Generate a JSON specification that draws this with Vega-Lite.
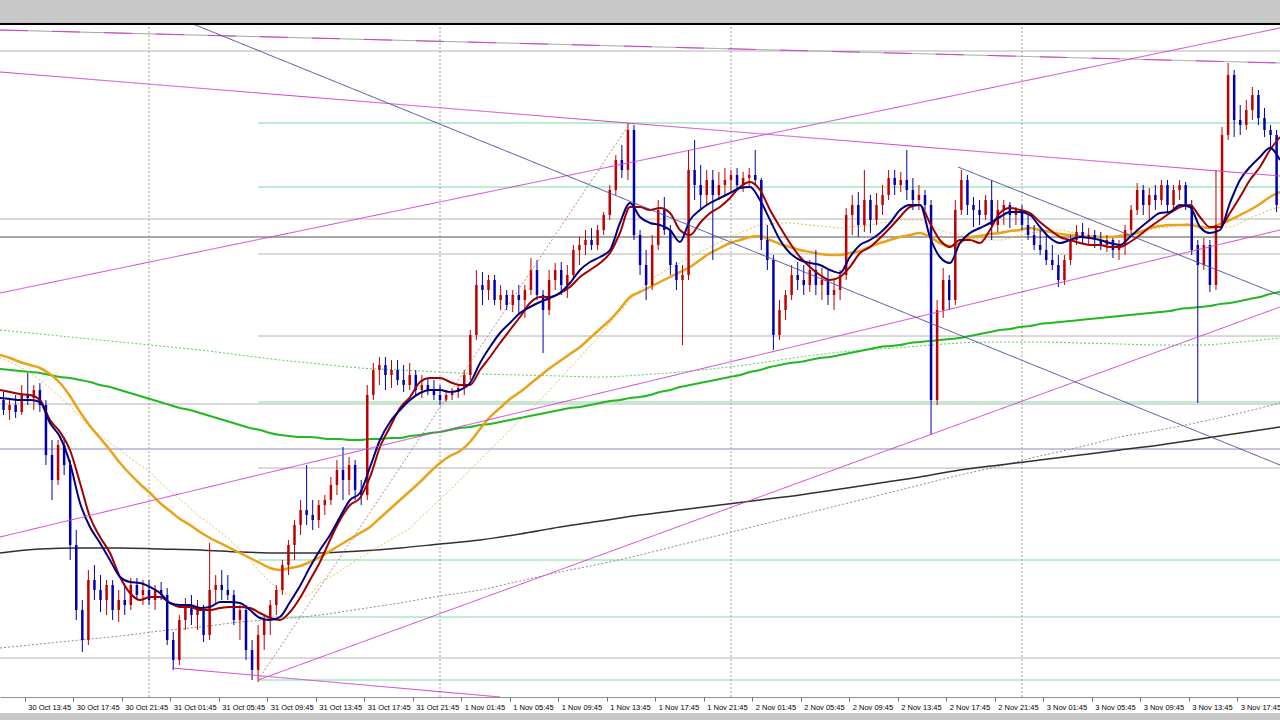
{
"$schema": "https://vega.github.io/schema/vega-lite/v6.json",
"width": 1280, "height": 689,
"autosize": {"type": "none"},
"padding": {"left": 0, "right": 0, "top": 24, "bottom": 7},
"background": "#c8c8c8",
"view": {"fill": "#ffffff", "stroke": null},
"config": {"font": "Liberation Sans", "axis": {"grid": false},
 "axisX": {"domainColor": "#909090", "tickColor": "#707070", "tickSize": 4, "labelFont": "Liberation Sans", "labelFontSize": 7.5, "labelColor": "#000000", "labelAlign": "left", "labelBaseline": "top", "labelPadding": 2, "labelOffset": 3, "labelOverlap": false, "labelBound": false, "labelFlush": false}},
"resolve": {"scale": {"color": "independent", "strokeDash": "independent"}},
"datasets": {
"days": [{"t":24},{"t":48},{"t":72},{"t":96}],
"levels": [
{"t0":11.71,"t1":117.28,"p":12162,"kind":"gray"},
{"t0":11.71,"t1":117.28,"p":11994,"kind":"gray"},
{"t0":11.71,"t1":117.28,"p":11976,"kind":"dark"},
{"t0":11.71,"t1":117.28,"p":11809,"kind":"gray"},
{"t0":11.71,"t1":117.28,"p":11764,"kind":"blue"},
{"t0":11.71,"t1":117.28,"p":11555,"kind":"gray"},
{"t0":33,"t1":117.28,"p":12090,"kind":"green"},
{"t0":33,"t1":117.28,"p":12026,"kind":"green"},
{"t0":33,"t1":117.28,"p":11959,"kind":"gray"},
{"t0":33,"t1":117.28,"p":11877,"kind":"gray"},
{"t0":33,"t1":117.28,"p":11811,"kind":"green"},
{"t0":33,"t1":117.28,"p":11745,"kind":"gray"},
{"t0":33,"t1":117.28,"p":11653,"kind":"green"},
{"t0":33,"t1":117.28,"p":11596,"kind":"green"},
{"t0":33,"t1":117.28,"p":11533,"kind":"green"}
],
"trends": [
{"t1":11.71,"p1":12141,"t2":117.28,"p2":12037,"kind":"magenta"},
{"t1":11.71,"p1":12183,"t2":117.28,"p2":12150,"kind":"grayline"},
{"t1":11.71,"p1":12183,"t2":117.28,"p2":12150,"kind":"magentadash"},
{"t1":11.71,"p1":11920,"t2":117.28,"p2":12185,"kind":"magenta"},
{"t1":11.71,"p1":11676,"t2":117.28,"p2":11983,"kind":"magenta"},
{"t1":33.0,"p1":11533,"t2":117.28,"p2":11906,"kind":"magenta"},
{"t1":25.9,"p1":11545,"t2":52.95,"p2":11516,"kind":"magenta"},
{"t1":27.63,"p1":12189,"t2":117.28,"p2":11748,"kind":"blue"},
{"t1":90.72,"p1":12046,"t2":117.28,"p2":11918,"kind":"blue"},
{"t1":33.0,"p1":11533,"t2":63.67,"p2":12090,"kind":"browndot"}
],
"ma": [
{"t":11.71,"n":11815,"r":11823,"o":11858,"yd":11855,"g":11844,"lg":11883,"k":11660,"gd":11565},
{"t":12.54,"n":11814,"r":11821,"o":11855,"yd":11851,"g":11843},
{"t":13.36,"n":11813,"r":11819,"o":11851,"yd":11846,"g":11842},
{"t":14.19,"n":11813,"r":11818,"o":11848,"yd":11840,"g":11841},
{"t":15.01,"n":11811,"r":11813,"o":11845,"yd":11833,"g":11840,"lg":11879,"k":11664,"gd":11569},
{"t":15.83,"n":11790,"r":11793,"o":11839,"yd":11825,"g":11838},
{"t":16.66,"n":11776,"r":11781,"o":11830,"yd":11816,"g":11836},
{"t":17.48,"n":11750,"r":11763,"o":11817,"yd":11807,"g":11835},
{"t":18.31,"n":11710,"r":11730,"o":11801,"yd":11796,"g":11833,"lg":11875,"k":11665,"gd":11573},
{"t":19.13,"n":11686,"r":11696,"o":11787,"yd":11786,"g":11831},
{"t":19.96,"n":11670,"r":11676,"o":11775,"yd":11778,"g":11828},
{"t":20.78,"n":11653,"r":11660,"o":11763,"yd":11770,"g":11826},
{"t":21.61,"n":11636,"r":11636,"o":11750,"yd":11763,"g":11823,"lg":11871,"k":11665,"gd":11577},
{"t":22.43,"n":11631,"r":11620,"o":11739,"yd":11755,"g":11820},
{"t":23.26,"n":11630,"r":11613,"o":11729,"yd":11748,"g":11817},
{"t":24.08,"n":11626,"r":11616,"o":11720,"yd":11741,"g":11814},
{"t":24.91,"n":11620,"r":11616,"o":11710,"yd":11731,"g":11811,"lg":11867,"k":11664,"gd":11582},
{"t":25.73,"n":11610,"r":11610,"o":11702,"yd":11722,"g":11808},
{"t":26.56,"n":11608,"r":11606,"o":11694,"yd":11714,"g":11805},
{"t":27.38,"n":11608,"r":11606,"o":11688,"yd":11705,"g":11803},
{"t":28.21,"n":11605,"r":11603,"o":11681,"yd":11696,"g":11800,"lg":11863,"k":11663,"gd":11586},
{"t":29.03,"n":11606,"r":11603,"o":11675,"yd":11689,"g":11797},
{"t":29.86,"n":11611,"r":11605,"o":11670,"yd":11681,"g":11794},
{"t":30.68,"n":11611,"r":11606,"o":11665,"yd":11673,"g":11791},
{"t":31.50,"n":11610,"r":11606,"o":11660,"yd":11663,"g":11788,"lg":11858,"k":11661,"gd":11591},
{"t":32.33,"n":11603,"r":11605,"o":11655,"yd":11653,"g":11785},
{"t":33.15,"n":11595,"r":11600,"o":11650,"yd":11641,"g":11783},
{"t":33.98,"n":11593,"r":11595,"o":11645,"yd":11631,"g":11780},
{"t":34.80,"n":11596,"r":11593,"o":11643,"yd":11622,"g":11778,"lg":11853,"k":11660,"gd":11594},
{"t":35.63,"n":11611,"r":11601,"o":11645,"yd":11618,"g":11777},
{"t":36.45,"n":11627,"r":11615,"o":11647,"yd":11616,"g":11776},
{"t":37.28,"n":11646,"r":11633,"o":11651,"yd":11619,"g":11776},
{"t":38.10,"n":11663,"r":11651,"o":11656,"yd":11630,"g":11775,"lg":11849,"k":11660,"gd":11598},
{"t":38.93,"n":11678,"r":11673,"o":11662,"yd":11636,"g":11774},
{"t":39.75,"n":11696,"r":11693,"o":11668,"yd":11642,"g":11774},
{"t":40.58,"n":11713,"r":11708,"o":11674,"yd":11649,"g":11773},
{"t":41.40,"n":11720,"r":11715,"o":11680,"yd":11655,"g":11773,"lg":11845,"k":11662,"gd":11604},
{"t":42.23,"n":11746,"r":11736,"o":11686,"yd":11661,"g":11774},
{"t":43.05,"n":11773,"r":11766,"o":11695,"yd":11667,"g":11774},
{"t":43.88,"n":11791,"r":11786,"o":11704,"yd":11673,"g":11775},
{"t":44.70,"n":11803,"r":11805,"o":11713,"yd":11679,"g":11775,"lg":11843,"k":11665,"gd":11610},
{"t":45.53,"n":11813,"r":11816,"o":11722,"yd":11685,"g":11777},
{"t":46.35,"n":11820,"r":11831,"o":11731,"yd":11695,"g":11778},
{"t":47.18,"n":11823,"r":11835,"o":11741,"yd":11704,"g":11780},
{"t":48.00,"n":11823,"r":11835,"o":11750,"yd":11714,"g":11781,"lg":11841,"k":11669,"gd":11617},
{"t":48.82,"n":11821,"r":11831,"o":11757,"yd":11723,"g":11783},
{"t":49.65,"n":11823,"r":11828,"o":11762,"yd":11733,"g":11785},
{"t":50.47,"n":11830,"r":11828,"o":11771,"yd":11743,"g":11786},
{"t":51.30,"n":11850,"r":11843,"o":11784,"yd":11753,"g":11788,"lg":11839,"k":11673,"gd":11623},
{"t":52.12,"n":11866,"r":11856,"o":11796,"yd":11763,"g":11789},
{"t":52.95,"n":11880,"r":11870,"o":11805,"yd":11773,"g":11791},
{"t":53.77,"n":11890,"r":11883,"o":11814,"yd":11783,"g":11793},
{"t":54.60,"n":11900,"r":11896,"o":11821,"yd":11793,"g":11795,"lg":11838,"k":11679,"gd":11632},
{"t":55.42,"n":11906,"r":11910,"o":11829,"yd":11803,"g":11797},
{"t":56.25,"n":11911,"r":11916,"o":11837,"yd":11813,"g":11799},
{"t":57.07,"n":11915,"r":11916,"o":11845,"yd":11823,"g":11801},
{"t":57.90,"n":11920,"r":11920,"o":11852,"yd":11834,"g":11803,"lg":11837,"k":11686,"gd":11641},
{"t":58.72,"n":11930,"r":11926,"o":11859,"yd":11845,"g":11805},
{"t":59.55,"n":11943,"r":11936,"o":11866,"yd":11856,"g":11806},
{"t":60.37,"n":11951,"r":11943,"o":11875,"yd":11867,"g":11808},
{"t":61.20,"n":11956,"r":11950,"o":11884,"yd":11878,"g":11810,"lg":11836,"k":11692,"gd":11649},
{"t":62.02,"n":11963,"r":11960,"o":11893,"yd":11890,"g":11812},
{"t":62.84,"n":11990,"r":11980,"o":11904,"yd":11901,"g":11813},
{"t":63.67,"n":12010,"r":12006,"o":11916,"yd":11913,"g":11815},
{"t":64.49,"n":11996,"r":12006,"o":11921,"yd":11923,"g":11816,"lg":11838,"k":11698,"gd":11658},
{"t":65.32,"n":11990,"r":12003,"o":11926,"yd":11933,"g":11818},
{"t":66.14,"n":11988,"r":12005,"o":11931,"yd":11939,"g":11821},
{"t":66.97,"n":11983,"r":12000,"o":11936,"yd":11945,"g":11823},
{"t":67.79,"n":11971,"r":11983,"o":11941,"yd":11950,"g":11826,"lg":11841,"k":11703,"gd":11668},
{"t":68.62,"n":11993,"r":11978,"o":11946,"yd":11956,"g":11828},
{"t":69.44,"n":12003,"r":11990,"o":11953,"yd":11961,"g":11830},
{"t":70.27,"n":12010,"r":12000,"o":11960,"yd":11966,"g":11832},
{"t":71.09,"n":12015,"r":12006,"o":11965,"yd":11971,"g":11834,"lg":11845,"k":11708,"gd":11678},
{"t":71.92,"n":12020,"r":12015,"o":11970,"yd":11976,"g":11836},
{"t":72.74,"n":12025,"r":12026,"o":11973,"yd":11980,"g":11838},
{"t":73.57,"n":12026,"r":12031,"o":11976,"yd":11984,"g":11841},
{"t":74.39,"n":12013,"r":12023,"o":11977,"yd":11988,"g":11843,"lg":11850,"k":11713,"gd":11688},
{"t":75.22,"n":11993,"r":12003,"o":11973,"yd":11989,"g":11846},
{"t":76.04,"n":11973,"r":11986,"o":11969,"yd":11990,"g":11848},
{"t":76.86,"n":11960,"r":11970,"o":11966,"yd":11990,"g":11850},
{"t":77.69,"n":11953,"r":11956,"o":11963,"yd":11989,"g":11851,"lg":11856,"k":11718,"gd":11698},
{"t":78.51,"n":11950,"r":11946,"o":11961,"yd":11988,"g":11853},
{"t":79.34,"n":11948,"r":11938,"o":11959,"yd":11987,"g":11855},
{"t":80.16,"n":11943,"r":11933,"o":11958,"yd":11986,"g":11856},
{"t":80.99,"n":11940,"r":11936,"o":11958,"yd":11985,"g":11858,"lg":11861,"k":11724,"gd":11708},
{"t":81.81,"n":11956,"r":11946,"o":11960,"yd":11986,"g":11860},
{"t":82.64,"n":11968,"r":11960,"o":11962,"yd":11987,"g":11862},
{"t":83.46,"n":11973,"r":11966,"o":11966,"yd":11988,"g":11864},
{"t":84.29,"n":11980,"r":11975,"o":11970,"yd":11990,"g":11866,"lg":11864,"k":11730,"gd":11718},
{"t":85.11,"n":11990,"r":11985,"o":11973,"yd":11991,"g":11867},
{"t":85.94,"n":12003,"r":11996,"o":11976,"yd":11993,"g":11868},
{"t":86.76,"n":12008,"r":12006,"o":11978,"yd":11993,"g":11870},
{"t":87.59,"n":12008,"r":12008,"o":11980,"yd":11993,"g":11871,"lg":11867,"k":11736,"gd":11728},
{"t":88.41,"n":11976,"r":11990,"o":11976,"yd":11988,"g":11872},
{"t":89.23,"n":11956,"r":11973,"o":11970,"yd":11983,"g":11873},
{"t":90.06,"n":11950,"r":11966,"o":11967,"yd":11980,"g":11874},
{"t":90.88,"n":11970,"r":11973,"o":11970,"yd":11978,"g":11875,"lg":11870,"k":11743,"gd":11738},
{"t":91.71,"n":11980,"r":11973,"o":11976,"yd":11975,"g":11877},
{"t":92.53,"n":11985,"r":11970,"o":11977,"yd":11974,"g":11879},
{"t":93.36,"n":11990,"r":11983,"o":11979,"yd":11973,"g":11881},
{"t":94.18,"n":11996,"r":12000,"o":11980,"yd":11973,"g":11883,"lg":11871,"k":11748,"gd":11747},
{"t":95.01,"n":12001,"r":12005,"o":11982,"yd":11975,"g":11884},
{"t":95.83,"n":12001,"r":12003,"o":11983,"yd":11978,"g":11886},
{"t":96.66,"n":11998,"r":12000,"o":11985,"yd":11980,"g":11887},
{"t":97.48,"n":11986,"r":11991,"o":11983,"yd":11981,"g":11889,"lg":11871,"k":11753,"gd":11757},
{"t":98.31,"n":11975,"r":11983,"o":11981,"yd":11982,"g":11890},
{"t":99.13,"n":11970,"r":11976,"o":11979,"yd":11983,"g":11891},
{"t":99.96,"n":11973,"r":11973,"o":11978,"yd":11981,"g":11892},
{"t":100.78,"n":11976,"r":11970,"o":11977,"yd":11980,"g":11893,"lg":11870,"k":11758,"gd":11766},
{"t":101.60,"n":11975,"r":11968,"o":11976,"yd":11978,"g":11894},
{"t":102.43,"n":11973,"r":11968,"o":11976,"yd":11977,"g":11895},
{"t":103.25,"n":11970,"r":11966,"o":11976,"yd":11976,"g":11896},
{"t":104.08,"n":11968,"r":11966,"o":11977,"yd":11978,"g":11897,"lg":11869,"k":11763,"gd":11776},
{"t":104.90,"n":11976,"r":11971,"o":11978,"yd":11980,"g":11898},
{"t":105.73,"n":11985,"r":11978,"o":11981,"yd":11981,"g":11899},
{"t":106.55,"n":11993,"r":11986,"o":11985,"yd":11983,"g":11900},
{"t":107.38,"n":12000,"r":11993,"o":11987,"yd":11985,"g":11901,"lg":11868,"k":11768,"gd":11783},
{"t":108.20,"n":12001,"r":12000,"o":11988,"yd":11986,"g":11902},
{"t":109.03,"n":12008,"r":12006,"o":11988,"yd":11988,"g":11904},
{"t":109.85,"n":12006,"r":12008,"o":11988,"yd":11990,"g":11905},
{"t":110.68,"n":11986,"r":11996,"o":11986,"yd":11988,"g":11906,"lg":11868,"k":11774,"gd":11791},
{"t":111.50,"n":11980,"r":11986,"o":11985,"yd":11986,"g":11907},
{"t":112.33,"n":11983,"r":11986,"o":11989,"yd":11986,"g":11909},
{"t":113.15,"n":12010,"r":12000,"o":11993,"yd":11986,"g":11910},
{"t":113.98,"n":12033,"r":12016,"o":11998,"yd":11990,"g":11912,"lg":11871,"k":11780,"gd":11800},
{"t":114.80,"n":12046,"r":12033,"o":12003,"yd":11995,"g":11914},
{"t":115.63,"n":12056,"r":12046,"o":12009,"yd":11999,"g":11916},
{"t":116.45,"n":12065,"r":12063,"o":12016,"yd":12003,"g":11919},
{"t":117.28,"n":12053,"r":12076,"o":12021,"yd":12006,"g":11921,"lg":11875,"k":11786,"gd":11810}
],
"bars": [
{"t":12,"o":11813,"h":11821,"l":11798,"c":11803},
{"t":12.5,"o":11803,"h":11815,"l":11793,"c":11808},
{"t":13,"o":11808,"h":11818,"l":11795,"c":11801},
{"t":13.5,"o":11801,"h":11828,"l":11798,"c":11818},
{"t":14,"o":11818,"h":11840,"l":11808,"c":11815},
{"t":14.5,"o":11815,"h":11828,"l":11803,"c":11823},
{"t":15,"o":11823,"h":11830,"l":11801,"c":11808},
{"t":15.5,"o":11808,"h":11813,"l":11748,"c":11758},
{"t":16,"o":11758,"h":11773,"l":11713,"c":11733},
{"t":16.5,"o":11733,"h":11773,"l":11728,"c":11768},
{"t":17,"o":11768,"h":11776,"l":11738,"c":11748},
{"t":17.5,"o":11748,"h":11753,"l":11653,"c":11668},
{"t":18,"o":11668,"h":11683,"l":11593,"c":11603},
{"t":18.5,"o":11603,"h":11613,"l":11561,"c":11573},
{"t":19,"o":11573,"h":11643,"l":11568,"c":11633},
{"t":19.5,"o":11633,"h":11648,"l":11613,"c":11623},
{"t":20,"o":11623,"h":11638,"l":11601,"c":11613},
{"t":20.5,"o":11613,"h":11633,"l":11598,"c":11628},
{"t":21,"o":11628,"h":11633,"l":11593,"c":11603},
{"t":21.5,"o":11603,"h":11623,"l":11591,"c":11613},
{"t":22,"o":11613,"h":11628,"l":11598,"c":11608},
{"t":22.5,"o":11608,"h":11635,"l":11603,"c":11628},
{"t":23,"o":11628,"h":11635,"l":11613,"c":11618},
{"t":23.5,"o":11618,"h":11633,"l":11608,"c":11623},
{"t":24,"o":11623,"h":11633,"l":11608,"c":11613},
{"t":24.5,"o":11613,"h":11628,"l":11603,"c":11623},
{"t":25,"o":11623,"h":11631,"l":11613,"c":11618},
{"t":25.5,"o":11618,"h":11625,"l":11568,"c":11573},
{"t":26,"o":11573,"h":11581,"l":11543,"c":11553},
{"t":26.5,"o":11553,"h":11598,"l":11548,"c":11593},
{"t":27,"o":11593,"h":11615,"l":11583,"c":11608},
{"t":27.5,"o":11608,"h":11618,"l":11588,"c":11598},
{"t":28,"o":11598,"h":11613,"l":11583,"c":11603},
{"t":28.5,"o":11603,"h":11608,"l":11571,"c":11578},
{"t":29,"o":11578,"h":11670,"l":11573,"c":11623},
{"t":29.5,"o":11623,"h":11638,"l":11608,"c":11628},
{"t":30,"o":11628,"h":11643,"l":11613,"c":11623},
{"t":30.5,"o":11623,"h":11638,"l":11613,"c":11618},
{"t":31,"o":11618,"h":11623,"l":11588,"c":11593},
{"t":31.5,"o":11593,"h":11608,"l":11573,"c":11603},
{"t":32,"o":11603,"h":11608,"l":11553,"c":11563},
{"t":32.5,"o":11563,"h":11573,"l":11533,"c":11543},
{"t":33,"o":11543,"h":11588,"l":11531,"c":11578},
{"t":33.5,"o":11578,"h":11598,"l":11563,"c":11593},
{"t":34,"o":11593,"h":11613,"l":11578,"c":11608},
{"t":34.5,"o":11608,"h":11628,"l":11598,"c":11623},
{"t":35,"o":11623,"h":11653,"l":11618,"c":11648},
{"t":35.5,"o":11648,"h":11673,"l":11638,"c":11668},
{"t":36,"o":11668,"h":11693,"l":11653,"c":11688},
{"t":36.5,"o":11688,"h":11713,"l":11678,"c":11703},
{"t":37,"o":11703,"h":11748,"l":11688,"c":11698},
{"t":37.5,"o":11698,"h":11713,"l":11683,"c":11693},
{"t":38,"o":11693,"h":11713,"l":11685,"c":11708},
{"t":38.5,"o":11708,"h":11718,"l":11698,"c":11713},
{"t":39,"o":11713,"h":11736,"l":11708,"c":11728},
{"t":39.5,"o":11728,"h":11753,"l":11718,"c":11743},
{"t":40,"o":11743,"h":11766,"l":11713,"c":11733},
{"t":40.5,"o":11733,"h":11756,"l":11718,"c":11748},
{"t":41,"o":11748,"h":11753,"l":11713,"c":11723},
{"t":41.5,"o":11723,"h":11733,"l":11708,"c":11718},
{"t":42,"o":11718,"h":11828,"l":11713,"c":11818},
{"t":42.5,"o":11818,"h":11850,"l":11813,"c":11843},
{"t":43,"o":11843,"h":11856,"l":11828,"c":11848},
{"t":43.5,"o":11848,"h":11856,"l":11823,"c":11838},
{"t":44,"o":11838,"h":11853,"l":11825,"c":11843},
{"t":44.5,"o":11843,"h":11853,"l":11828,"c":11833},
{"t":45,"o":11833,"h":11848,"l":11821,"c":11828},
{"t":45.5,"o":11828,"h":11850,"l":11823,"c":11838},
{"t":46,"o":11838,"h":11843,"l":11818,"c":11823},
{"t":46.5,"o":11823,"h":11838,"l":11815,"c":11828},
{"t":47,"o":11828,"h":11835,"l":11818,"c":11823},
{"t":47.5,"o":11823,"h":11833,"l":11813,"c":11818},
{"t":48,"o":11818,"h":11828,"l":11808,"c":11813},
{"t":48.5,"o":11813,"h":11823,"l":11811,"c":11818},
{"t":49,"o":11818,"h":11825,"l":11813,"c":11821},
{"t":49.5,"o":11821,"h":11828,"l":11815,"c":11825},
{"t":50,"o":11825,"h":11843,"l":11818,"c":11838},
{"t":50.5,"o":11838,"h":11883,"l":11833,"c":11878},
{"t":51,"o":11878,"h":11943,"l":11873,"c":11928},
{"t":51.5,"o":11928,"h":11941,"l":11908,"c":11923},
{"t":52,"o":11923,"h":11938,"l":11913,"c":11933},
{"t":52.5,"o":11933,"h":11938,"l":11908,"c":11913},
{"t":53,"o":11913,"h":11928,"l":11903,"c":11918},
{"t":53.5,"o":11918,"h":11923,"l":11903,"c":11908},
{"t":54,"o":11908,"h":11923,"l":11901,"c":11918},
{"t":54.5,"o":11918,"h":11928,"l":11898,"c":11913},
{"t":55,"o":11913,"h":11928,"l":11895,"c":11923},
{"t":55.5,"o":11923,"h":11955,"l":11918,"c":11943},
{"t":56,"o":11943,"h":11953,"l":11913,"c":11918},
{"t":56.5,"o":11918,"h":11923,"l":11860,"c":11903},
{"t":57,"o":11903,"h":11943,"l":11898,"c":11933},
{"t":57.5,"o":11933,"h":11950,"l":11923,"c":11943},
{"t":58,"o":11943,"h":11951,"l":11918,"c":11928},
{"t":58.5,"o":11928,"h":11948,"l":11915,"c":11938},
{"t":59,"o":11938,"h":11968,"l":11933,"c":11963},
{"t":59.5,"o":11963,"h":11976,"l":11948,"c":11968},
{"t":60,"o":11968,"h":11983,"l":11958,"c":11973},
{"t":60.5,"o":11973,"h":11985,"l":11963,"c":11968},
{"t":61,"o":11968,"h":11988,"l":11963,"c":11983},
{"t":61.5,"o":11983,"h":12001,"l":11978,"c":11998},
{"t":62,"o":11998,"h":12028,"l":11993,"c":12023},
{"t":62.5,"o":12023,"h":12058,"l":12018,"c":12053},
{"t":63,"o":12053,"h":12068,"l":12035,"c":12043},
{"t":63.5,"o":12043,"h":12090,"l":12033,"c":12083},
{"t":64,"o":12083,"h":12088,"l":11973,"c":11978},
{"t":64.5,"o":11978,"h":11983,"l":11938,"c":11948},
{"t":65,"o":11948,"h":11963,"l":11913,"c":11928},
{"t":65.5,"o":11928,"h":11978,"l":11923,"c":11968},
{"t":66,"o":11968,"h":12013,"l":11963,"c":12003},
{"t":66.5,"o":12003,"h":12016,"l":11978,"c":11983},
{"t":67,"o":11983,"h":11988,"l":11938,"c":11948},
{"t":67.5,"o":11948,"h":11951,"l":11923,"c":11933},
{"t":68,"o":11933,"h":11948,"l":11868,"c":11938},
{"t":68.5,"o":11938,"h":12063,"l":11933,"c":12043},
{"t":69,"o":12043,"h":12073,"l":12013,"c":12028},
{"t":69.5,"o":12028,"h":12048,"l":12003,"c":12018},
{"t":70,"o":12018,"h":12043,"l":12008,"c":12033},
{"t":70.5,"o":12033,"h":12043,"l":11953,"c":12018},
{"t":71,"o":12018,"h":12041,"l":12013,"c":12028},
{"t":71.5,"o":12028,"h":12045,"l":12018,"c":12033},
{"t":72,"o":12033,"h":12043,"l":12021,"c":12038},
{"t":72.5,"o":12038,"h":12045,"l":12023,"c":12028},
{"t":73,"o":12028,"h":12041,"l":12021,"c":12035},
{"t":73.5,"o":12035,"h":12045,"l":12025,"c":12038},
{"t":74,"o":12038,"h":12063,"l":12028,"c":12033},
{"t":74.5,"o":12033,"h":12035,"l":11963,"c":11973},
{"t":75,"o":11973,"h":11988,"l":11943,"c":11953},
{"t":75.5,"o":11953,"h":11958,"l":11863,"c":11878},
{"t":76,"o":11878,"h":11913,"l":11873,"c":11903},
{"t":76.5,"o":11903,"h":11923,"l":11893,"c":11918},
{"t":77,"o":11918,"h":11948,"l":11913,"c":11938},
{"t":77.5,"o":11938,"h":11951,"l":11923,"c":11933},
{"t":78,"o":11933,"h":11948,"l":11918,"c":11928},
{"t":78.5,"o":11928,"h":11953,"l":11921,"c":11943},
{"t":79,"o":11943,"h":11963,"l":11918,"c":11928},
{"t":79.5,"o":11928,"h":11945,"l":11913,"c":11933},
{"t":80,"o":11933,"h":11943,"l":11908,"c":11918},
{"t":80.5,"o":11918,"h":11933,"l":11903,"c":11923},
{"t":81,"o":11923,"h":11943,"l":11913,"c":11938},
{"t":81.5,"o":11938,"h":12005,"l":11933,"c":11998},
{"t":82,"o":11998,"h":12018,"l":11978,"c":12008},
{"t":82.5,"o":12008,"h":12021,"l":11976,"c":11988},
{"t":83,"o":11988,"h":12043,"l":11981,"c":12013},
{"t":83.5,"o":12013,"h":12018,"l":11980,"c":11993},
{"t":84,"o":11993,"h":12020,"l":11988,"c":12008},
{"t":84.5,"o":12008,"h":12028,"l":11998,"c":12018},
{"t":85,"o":12018,"h":12043,"l":12013,"c":12035},
{"t":85.5,"o":12035,"h":12043,"l":12018,"c":12028},
{"t":86,"o":12028,"h":12041,"l":12021,"c":12033},
{"t":86.5,"o":12033,"h":12063,"l":12013,"c":12023},
{"t":87,"o":12023,"h":12035,"l":12003,"c":12013},
{"t":87.5,"o":12013,"h":12028,"l":12003,"c":12018},
{"t":88,"o":12018,"h":12023,"l":12003,"c":12008},
{"t":88.5,"o":12008,"h":12013,"l":11778,"c":11813},
{"t":89,"o":11813,"h":11913,"l":11808,"c":11903},
{"t":89.5,"o":11903,"h":11945,"l":11895,"c":11933},
{"t":90,"o":11933,"h":11938,"l":11903,"c":11913},
{"t":90.5,"o":11913,"h":12013,"l":11908,"c":12003},
{"t":91,"o":12003,"h":12043,"l":11998,"c":12033},
{"t":91.5,"o":12033,"h":12038,"l":11998,"c":12008},
{"t":92,"o":12008,"h":12016,"l":11986,"c":12003},
{"t":92.5,"o":12003,"h":12013,"l":11988,"c":11998},
{"t":93,"o":11998,"h":12018,"l":11993,"c":12013},
{"t":93.5,"o":12013,"h":12033,"l":11973,"c":11988},
{"t":94,"o":11988,"h":12013,"l":11981,"c":12003},
{"t":94.5,"o":12003,"h":12013,"l":11988,"c":12008},
{"t":95,"o":12008,"h":12011,"l":11985,"c":11998},
{"t":95.5,"o":11998,"h":12006,"l":11988,"c":12003},
{"t":96,"o":12003,"h":12008,"l":11983,"c":11988},
{"t":96.5,"o":11988,"h":11998,"l":11973,"c":11978},
{"t":97,"o":11978,"h":11988,"l":11963,"c":11968},
{"t":97.5,"o":11968,"h":11983,"l":11958,"c":11963},
{"t":98,"o":11963,"h":11978,"l":11948,"c":11953},
{"t":98.5,"o":11953,"h":11968,"l":11943,"c":11948},
{"t":99,"o":11948,"h":11958,"l":11926,"c":11933},
{"t":99.5,"o":11933,"h":11958,"l":11928,"c":11953},
{"t":100,"o":11953,"h":11978,"l":11948,"c":11973},
{"t":100.5,"o":11973,"h":11988,"l":11968,"c":11981},
{"t":101,"o":11981,"h":11990,"l":11970,"c":11975},
{"t":101.5,"o":11975,"h":11985,"l":11968,"c":11978},
{"t":102,"o":11978,"h":11983,"l":11965,"c":11973},
{"t":102.5,"o":11973,"h":11981,"l":11963,"c":11968},
{"t":103,"o":11968,"h":11978,"l":11961,"c":11973},
{"t":103.5,"o":11973,"h":11975,"l":11955,"c":11963},
{"t":104,"o":11963,"h":11973,"l":11953,"c":11968},
{"t":104.5,"o":11968,"h":11988,"l":11958,"c":11983},
{"t":105,"o":11983,"h":12008,"l":11978,"c":12003},
{"t":105.5,"o":12003,"h":12030,"l":11998,"c":12023},
{"t":106,"o":12023,"h":12028,"l":11998,"c":12008},
{"t":106.5,"o":12008,"h":12025,"l":11993,"c":12018},
{"t":107,"o":12018,"h":12028,"l":12003,"c":12013},
{"t":107.5,"o":12013,"h":12033,"l":12008,"c":12028},
{"t":108,"o":12028,"h":12033,"l":12000,"c":12008},
{"t":108.5,"o":12008,"h":12028,"l":12003,"c":12023},
{"t":109,"o":12023,"h":12033,"l":12013,"c":12028},
{"t":109.5,"o":12028,"h":12031,"l":12003,"c":12008},
{"t":110,"o":12008,"h":12013,"l":11958,"c":11963},
{"t":110.5,"o":11968,"h":11973,"l":11810,"c":11948},
{"t":111,"o":11948,"h":11975,"l":11943,"c":11968},
{"t":111.5,"o":11968,"h":11973,"l":11921,"c":11928},
{"t":112,"o":11928,"h":12043,"l":11923,"c":11988},
{"t":112.5,"o":11988,"h":12086,"l":11985,"c":12078},
{"t":113,"o":12078,"h":12150,"l":12073,"c":12138},
{"t":113.5,"o":12138,"h":12143,"l":12076,"c":12093},
{"t":114,"o":12093,"h":12108,"l":12078,"c":12088},
{"t":114.5,"o":12088,"h":12113,"l":12083,"c":12103},
{"t":115,"o":12103,"h":12126,"l":12093,"c":12118},
{"t":115.5,"o":12118,"h":12123,"l":12088,"c":12095},
{"t":116,"o":12095,"h":12105,"l":12076,"c":12083},
{"t":116.5,"o":12083,"h":12088,"l":12063,"c":12078},
{"t":117,"o":12078,"h":12083,"l":12001,"c":12008}
]
},
"layer": [
{"data": {"name": "levels"},
 "mark": {"type": "rule", "strokeWidth": 1, "clip": true},
 "encoding": {
  "x": {"field": "t0", "type": "quantitative", "title": null, "scale": {"domain": [11.71, 117.28], "nice": false, "zero": false, "padding": 0},
   "axis": {"orient": "bottom", "offset": -16, "title": null, "grid": false,
    "values": [13.75,17.75,21.75,25.75,29.75,33.75,37.75,41.75,45.75,49.75,53.75,57.75,61.75,65.75,69.75,73.75,77.75,81.75,85.75,89.75,93.75,97.75,101.75,105.75,109.75,113.75],
    "labelExpr": "utcFormat(utc(2017,9,30) + datum.value*3600000, '%-d %b %H:%M')"}},
  "x2": {"field": "t1"},
  "y": {"field": "p", "type": "quantitative", "scale": {"domain": [11500, 12189], "nice": false, "zero": false, "padding": 0}, "axis": null},
  "color": {"field": "kind", "type": "nominal", "legend": null,
   "scale": {"domain": ["gray", "dark", "blue", "green"], "range": ["#b4b4b4", "#505050", "#8a8ac4", "#7ddca0"]}}
 }},
{"data": {"name": "days"},
 "mark": {"type": "rule", "color": "#a0a0a0", "strokeWidth": 1, "strokeDash": [2, 2]},
 "encoding": {
  "x": {"field": "t", "type": "quantitative", "title": null, "scale": {"domain": [11.71, 117.28], "nice": false, "zero": false, "padding": 0}},
  "y": {"datum": 11516, "type": "quantitative", "scale": {"domain": [11500, 12189], "nice": false, "zero": false, "padding": 0}, "axis": null},
  "y2": {"datum": 12189}
 }},
{"data": {"name": "ma"},
 "transform": [{"filter": "isValid(datum.gd)"}],
 "mark": {"type": "line", "color": "#8c8c8c", "strokeWidth": 1, "strokeDash": [2, 2], "clip": true, "interpolate": "monotone"},
 "encoding": {
  "x": {"field": "t", "type": "quantitative", "title": null, "scale": {"domain": [11.71, 117.28], "nice": false, "zero": false, "padding": 0}},
  "y": {"field": "gd", "type": "quantitative", "scale": {"domain": [11500, 12189], "nice": false, "zero": false, "padding": 0}, "axis": null}
 }},
{"data": {"name": "ma"},
 "transform": [{"filter": "isValid(datum.k)"}],
 "mark": {"type": "line", "color": "#303030", "strokeWidth": 1.5, "clip": true, "interpolate": "monotone"},
 "encoding": {
  "x": {"field": "t", "type": "quantitative", "title": null, "scale": {"domain": [11.71, 117.28], "nice": false, "zero": false, "padding": 0}},
  "y": {"field": "k", "type": "quantitative", "scale": {"domain": [11500, 12189], "nice": false, "zero": false, "padding": 0}, "axis": null}
 }},
{"data": {"name": "ma"},
 "transform": [{"filter": "isValid(datum.lg)"}],
 "mark": {"type": "line", "color": "#5ad05a", "strokeWidth": 1, "strokeDash": [2, 2], "clip": true, "interpolate": "monotone"},
 "encoding": {
  "x": {"field": "t", "type": "quantitative", "title": null, "scale": {"domain": [11.71, 117.28], "nice": false, "zero": false, "padding": 0}},
  "y": {"field": "lg", "type": "quantitative", "scale": {"domain": [11500, 12189], "nice": false, "zero": false, "padding": 0}, "axis": null}
 }},
{"data": {"name": "ma"},
 "mark": {"type": "line", "color": "#22b822", "strokeWidth": 2, "clip": true, "interpolate": "monotone"},
 "encoding": {
  "x": {"field": "t", "type": "quantitative", "title": null, "scale": {"domain": [11.71, 117.28], "nice": false, "zero": false, "padding": 0}},
  "y": {"field": "g", "type": "quantitative", "scale": {"domain": [11500, 12189], "nice": false, "zero": false, "padding": 0}, "axis": null}
 }},
{"data": {"name": "ma"},
 "mark": {"type": "line", "color": "#e0c060", "strokeWidth": 1, "strokeDash": [2, 2], "clip": true, "interpolate": "monotone"},
 "encoding": {
  "x": {"field": "t", "type": "quantitative", "title": null, "scale": {"domain": [11.71, 117.28], "nice": false, "zero": false, "padding": 0}},
  "y": {"field": "yd", "type": "quantitative", "scale": {"domain": [11500, 12189], "nice": false, "zero": false, "padding": 0}, "axis": null}
 }},
{"data": {"name": "ma"},
 "mark": {"type": "line", "color": "#e8a317", "strokeWidth": 2.5, "clip": true, "interpolate": "monotone"},
 "encoding": {
  "x": {"field": "t", "type": "quantitative", "title": null, "scale": {"domain": [11.71, 117.28], "nice": false, "zero": false, "padding": 0}},
  "y": {"field": "o", "type": "quantitative", "scale": {"domain": [11500, 12189], "nice": false, "zero": false, "padding": 0}, "axis": null}
 }},
{"data": {"name": "bars"},
 "mark": {"type": "rule", "strokeWidth": 1, "clip": true},
 "encoding": {
  "x": {"field": "t", "type": "quantitative", "title": null, "scale": {"domain": [11.71, 117.28], "nice": false, "zero": false, "padding": 0}},
  "y": {"field": "l", "type": "quantitative", "scale": {"domain": [11500, 12189], "nice": false, "zero": false, "padding": 0}, "axis": null},
  "y2": {"field": "h"},
  "color": {"condition": {"test": "datum.c >= datum.o", "value": "#c00000"}, "value": "#0000b0"}
 }},
{"data": {"name": "bars"},
 "mark": {"type": "bar", "width": 2.5, "clip": true},
 "encoding": {
  "x": {"field": "t", "type": "quantitative", "title": null, "scale": {"domain": [11.71, 117.28], "nice": false, "zero": false, "padding": 0}},
  "y": {"field": "o", "type": "quantitative", "scale": {"domain": [11500, 12189], "nice": false, "zero": false, "padding": 0}, "axis": null},
  "y2": {"field": "c"},
  "color": {"condition": {"test": "datum.c >= datum.o", "value": "#c00000"}, "value": "#0000b0"}
 }},
{"data": {"name": "ma"},
 "mark": {"type": "line", "color": "#a00000", "strokeWidth": 2, "clip": true, "interpolate": "monotone"},
 "encoding": {
  "x": {"field": "t", "type": "quantitative", "title": null, "scale": {"domain": [11.71, 117.28], "nice": false, "zero": false, "padding": 0}},
  "y": {"field": "r", "type": "quantitative", "scale": {"domain": [11500, 12189], "nice": false, "zero": false, "padding": 0}, "axis": null}
 }},
{"data": {"name": "ma"},
 "mark": {"type": "line", "color": "#000080", "strokeWidth": 2, "clip": true, "interpolate": "monotone"},
 "encoding": {
  "x": {"field": "t", "type": "quantitative", "title": null, "scale": {"domain": [11.71, 117.28], "nice": false, "zero": false, "padding": 0}},
  "y": {"field": "n", "type": "quantitative", "scale": {"domain": [11500, 12189], "nice": false, "zero": false, "padding": 0}, "axis": null}
 }},
{"data": {"name": "trends"},
 "mark": {"type": "rule", "strokeWidth": 1, "clip": true},
 "encoding": {
  "x": {"field": "t1", "type": "quantitative", "title": null, "scale": {"domain": [11.71, 117.28], "nice": false, "zero": false, "padding": 0}},
  "y": {"field": "p1", "type": "quantitative", "scale": {"domain": [11500, 12189], "nice": false, "zero": false, "padding": 0}, "axis": null},
  "x2": {"field": "t2"},
  "y2": {"field": "p2"},
  "color": {"field": "kind", "type": "nominal", "legend": null,
   "scale": {"domain": ["magenta", "grayline", "magentadash", "blue", "browndot"], "range": ["#d040d0", "#a0a0a0", "#d040d0", "#4a4aa0", "#c08080"]}},
  "strokeDash": {"field": "kind", "type": "nominal", "legend": null,
   "scale": {"domain": ["magenta", "grayline", "magentadash", "blue", "browndot"], "range": [[1, 0], [1, 0], [28, 24], [1, 0], [2, 2]]}}
 }},
{"data": {"values": [{}]},
 "mark": {"type": "rule", "color": "#000000", "strokeWidth": 2},
 "encoding": {
  "y": {"datum": 12189, "type": "quantitative", "scale": {"domain": [11500, 12189], "nice": false, "zero": false, "padding": 0}, "axis": null}
 }}
]
}
